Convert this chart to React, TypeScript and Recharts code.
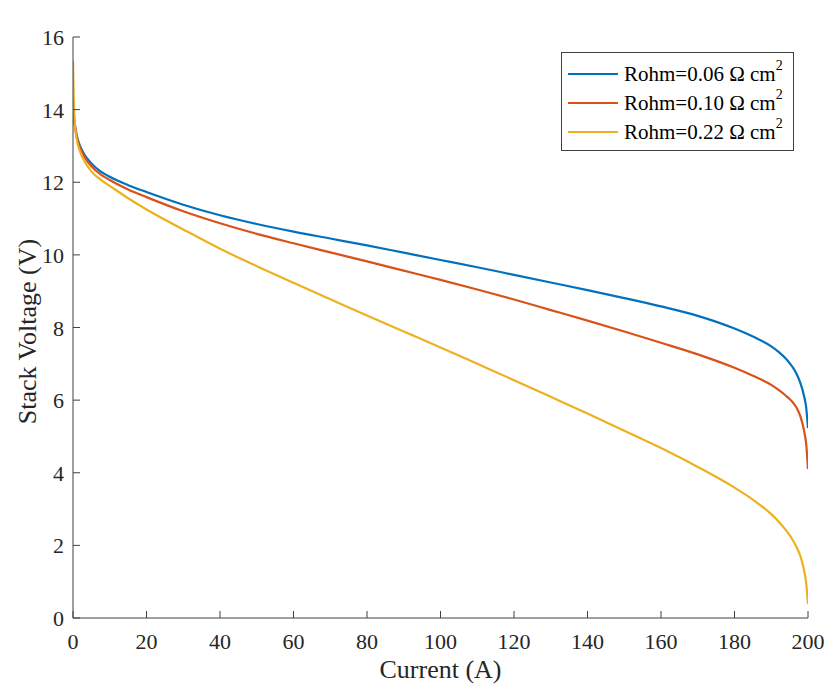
import React from 'react';
import { LineChart, Line, XAxis, YAxis, Legend } from 'recharts';

const current = [0, 0.2, 0.5, 1, 2, 3, 5, 7.5, 10, 15, 20, 30, 40, 50, 60, 70, 80, 90, 100, 110, 120, 130, 140, 150, 160, 170, 180, 185, 190, 192, 194, 195, 196, 197, 198, 199, 199.5, 200];
const rohm006 = [14.1, 13.85, 13.6, 13.3, 12.98, 12.78, 12.52, 12.3, 12.15, 11.92, 11.73, 11.38, 11.09, 10.85, 10.64, 10.45, 10.26, 10.06, 9.86, 9.66, 9.45, 9.24, 9.03, 8.81, 8.58, 8.32, 7.97, 7.75, 7.48, 7.33, 7.14, 7.02, 6.88, 6.7, 6.45, 6.08, 5.8, 5.23];
const rohm010 = [14.0, 13.8, 13.55, 13.25, 12.93, 12.72, 12.44, 12.22, 12.06, 11.8, 11.59, 11.2, 10.87, 10.58, 10.32, 10.07, 9.82, 9.565, 9.31, 9.045, 8.77, 8.48, 8.19, 7.89, 7.58, 7.26, 6.89, 6.67, 6.42, 6.28, 6.12, 6.03, 5.92, 5.77, 5.53, 5.12, 4.8, 4.1];
const rohm022 = [15.35, 14.3, 13.65, 13.2, 12.82, 12.6, 12.3, 12.07, 11.9, 11.56, 11.25, 10.7, 10.17, 9.69, 9.23, 8.78, 8.33, 7.89, 7.45, 7.0, 6.55, 6.09, 5.63, 5.16, 4.68, 4.16, 3.59, 3.26, 2.86, 2.66, 2.42, 2.28, 2.12, 1.93, 1.68, 1.28, 0.96, 0.38];

const xTicks = [0, 20, 40, 60, 80, 100, 120, 140, 160, 180, 200];
const yTicks = [0, 2, 4, 6, 8, 10, 12, 14, 16];

const seriesNames = ['Rohm=0.06 Ω cm', 'Rohm=0.10 Ω cm', 'Rohm=0.22 Ω cm'];
const seriesKeys = ['r006', 'r010', 'r022'];
const seriesColors = ['#0072BD', '#D95319', '#EDB120'];

const data = current.map((c, i) => ({
  current: c,
  r006: rohm006[i],
  r010: rohm010[i],
  r022: rohm022[i],
}));

const FONT = '"Liberation Serif", "Times New Roman", serif';
const AXIS_COLOR = '#404040';
const TICK_LEN = 7;

const BottomTick = (props: any) => {
  const { x, y, payload } = props;
  return (
    <g>
      <line x1={x} y1={y} x2={x} y2={y - TICK_LEN} stroke={AXIS_COLOR} strokeWidth={1} />
      <text x={x} y={y + 31} textAnchor="middle" fontFamily={FONT} fontSize={22} fill="#262626">
        {payload.value}
      </text>
    </g>
  );
};

const TopTick = (props: any) => {
  const { x, y } = props;
  return <line x1={x} y1={y} x2={x} y2={y + TICK_LEN} stroke={AXIS_COLOR} strokeWidth={1} />;
};

const LeftTick = (props: any) => {
  const { x, y, payload } = props;
  return (
    <g>
      <line x1={x} y1={y} x2={x + TICK_LEN} y2={y} stroke={AXIS_COLOR} strokeWidth={1} />
      <text x={x - 9} y={y + 8} textAnchor="end" fontFamily={FONT} fontSize={22} fill="#262626">
        {payload.value}
      </text>
    </g>
  );
};

const RightTick = (props: any) => {
  const { x, y } = props;
  return <line x1={x} y1={y} x2={x - TICK_LEN} y2={y} stroke={AXIS_COLOR} strokeWidth={1} />;
};

const LegendContent = () => (
  <div
    style={{
      width: 233,
      height: 99,
      boxSizing: 'border-box',
      border: `1px solid ${AXIS_COLOR}`,
      background: '#fff',
    }}
  >
    <svg width={231} height={97} style={{ display: 'block' }}>
      {seriesNames.map((name, i) => {
        const cy = 21 + i * 29;
        return (
          <g key={name}>
            <line x1={6} y1={cy} x2={56} y2={cy} stroke={seriesColors[i]} strokeWidth={2.2} />
            <text x={62} y={cy + 7} fontFamily={FONT} fontSize={21} fill="#000">
              {name}
              <tspan fontSize={14} dy={-11}>2</tspan>
            </text>
          </g>
        );
      })}
    </svg>
  </div>
);

export default function App() {
  return (
    <div style={{ position: 'fixed', left: 0, top: 0, width: 826, height: 686, background: '#fff', overflow: 'visible' }}>
      <LineChart
        width={826}
        height={686}
        data={data}
        margin={{ top: 37, right: 18, bottom: 38, left: 33 }}
        style={{ background: '#fff', overflow: 'visible' }}
      >
        <XAxis
          dataKey="current"
          type="number"
          domain={[0, 200]}
          ticks={xTicks}
          interval={0}
          allowDataOverflow
          height={30}
          tickSize={0}
          tickMargin={0}
          tickLine={false}
          axisLine={{ stroke: AXIS_COLOR, strokeWidth: 1 }}
          tick={<BottomTick />}
          label={(p: any) => {
            const vb = p.viewBox;
            return (
              <text x={vb.x + vb.width / 2} y={vb.y + 60} textAnchor="middle" fontFamily={FONT} fontSize={26} fill="#262626">
                Current (A)
              </text>
            );
          }}
        />
        <XAxis
          xAxisId="top"
          orientation="top"
          dataKey="current"
          type="number"
          domain={[0, 200]}
          ticks={xTicks}
          interval={0}
          allowDataOverflow
          height={0}
          tickSize={0}
          tickMargin={0}
          tickLine={false}
          axisLine={{ stroke: AXIS_COLOR, strokeWidth: 1 }}
          tick={<TopTick />}
          label={(p: any) => {
            const vb = p.viewBox;
            return (
              <text x={vb.x + vb.width / 2} y={25} textAnchor="middle" fontFamily={FONT} fontSize={22} fontWeight="bold" fill="#000">
                Polarisation curve
              </text>
            );
          }}
        />
        <YAxis
          type="number"
          domain={[0, 16]}
          ticks={yTicks}
          interval={0}
          allowDataOverflow
          width={40}
          tickSize={0}
          tickMargin={0}
          tickLine={false}
          axisLine={{ stroke: AXIS_COLOR, strokeWidth: 1 }}
          tick={<LeftTick />}
          label={(p: any) => {
            const vb = p.viewBox;
            const cx = 27;
            const cy = vb.y + vb.height / 2 + 4;
            return (
              <text x={cx} y={cy} transform={`rotate(-90 ${cx} ${cy})`} textAnchor="middle" dominantBaseline="central" fontFamily={FONT} fontSize={26} fill="#262626">
                Stack Voltage (V)
              </text>
            );
          }}
        />
        <YAxis
          yAxisId="right"
          orientation="right"
          type="number"
          domain={[0, 16]}
          ticks={yTicks}
          interval={0}
          allowDataOverflow
          width={0}
          tickSize={0}
          tickMargin={0}
          tickLine={false}
          axisLine={{ stroke: AXIS_COLOR, strokeWidth: 1 }}
          tick={<RightTick />}
        />
        <Legend
          layout="horizontal"
          verticalAlign="middle"
          align="center"
          wrapperStyle={{ position: 'absolute', left: 561, top: 52, width: 233, height: 99 }}
          content={<LegendContent />}
        />
        {seriesKeys.map((k, i) => (
          <Line
            key={k}
            type="monotone"
            dataKey={k}
            name={seriesNames[i]}
            stroke={seriesColors[i]}
            strokeWidth={2.2}
            dot={false}
            activeDot={false}
            isAnimationActive={false}
          />
        ))}
      </LineChart>
    </div>
  );
}
